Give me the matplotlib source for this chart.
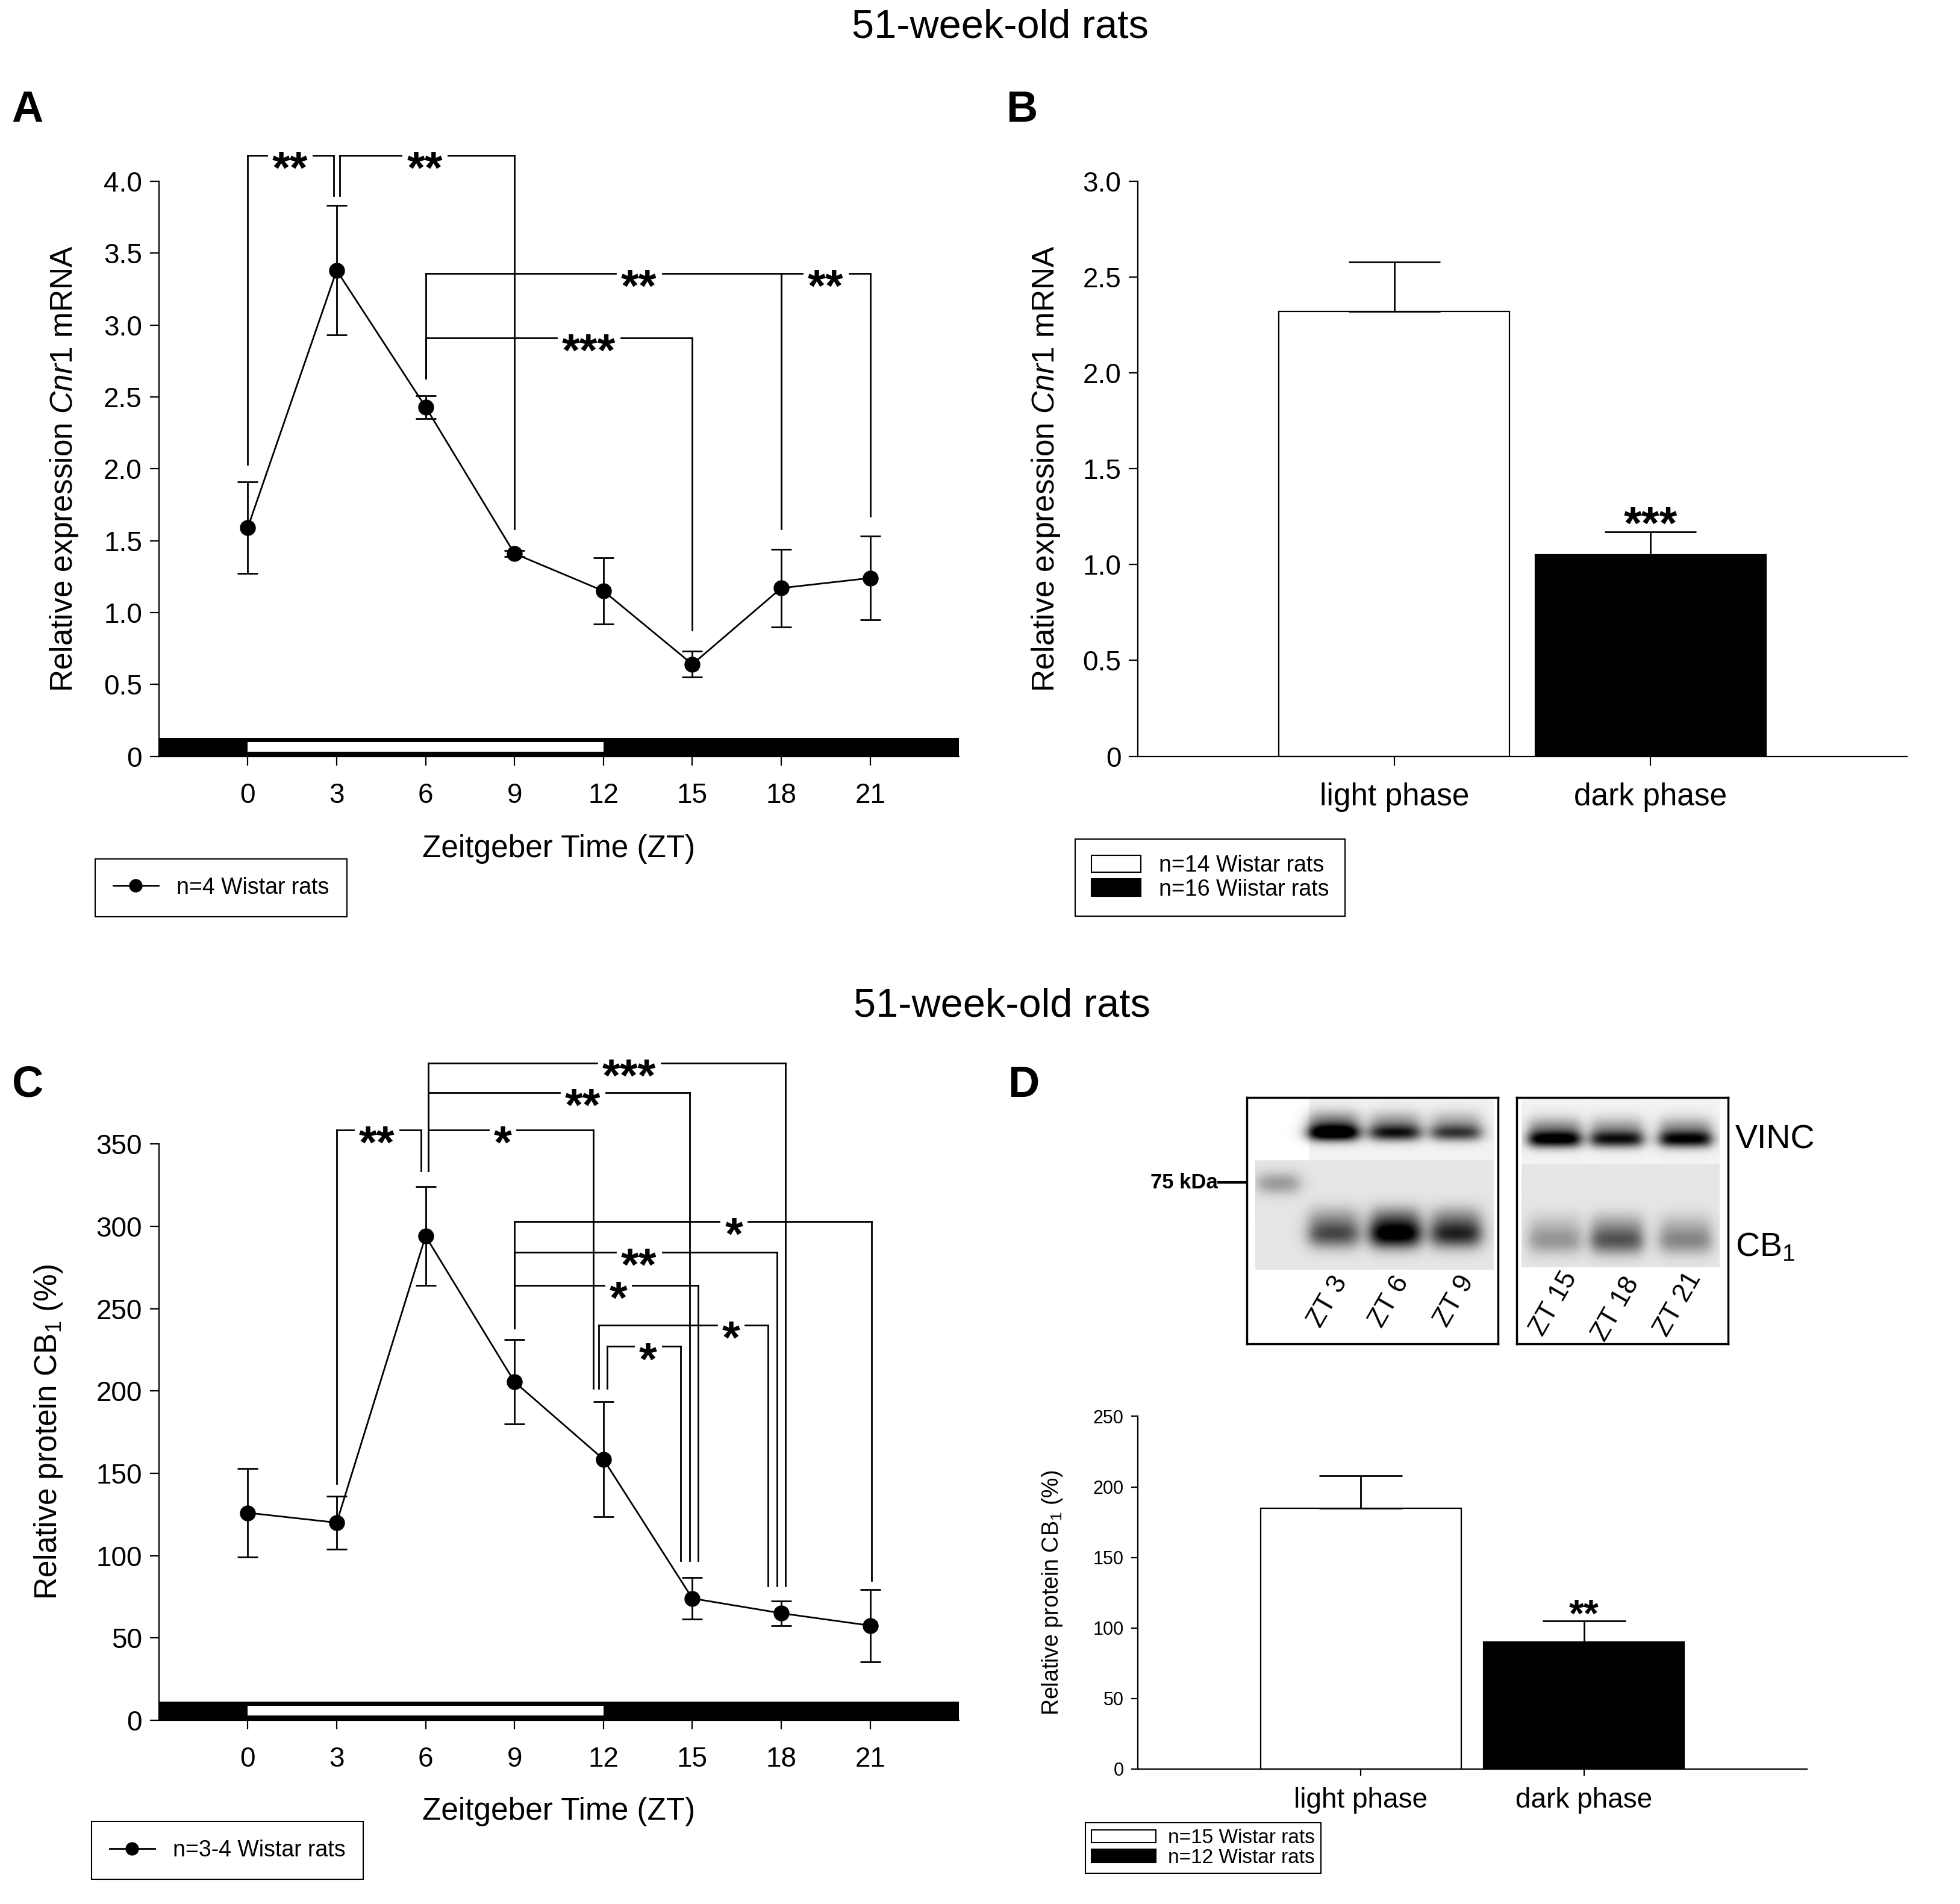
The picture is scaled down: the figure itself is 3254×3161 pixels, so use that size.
import numpy as np
import matplotlib
matplotlib.use("Agg")
import matplotlib.pyplot as plt
import matplotlib.transforms as mtransforms
from matplotlib import font_manager
from matplotlib.lines import Line2D
from matplotlib.patches import Patch, Rectangle

# ---- data ----
zt = [0, 3, 6, 9, 12, 15, 18, 21]

# A: Cnr1 mRNA over the day
mrna_mean = [1.59, 3.38, 2.43, 1.41, 1.15, 0.64, 1.17, 1.24]
mrna_err = [0.32, 0.45, 0.08, 0.02, 0.23, 0.09, 0.27, 0.29]

# B: light vs dark phase mRNA
phases = ["light phase", "dark phase"]
mrna_phase = [2.32, 1.05]
mrna_phase_err = [0.26, 0.12]

# C: CB1 protein over the day
prot_mean = [126, 120, 294, 205.5, 158.5, 74, 65, 57.5]
prot_err = [27, 16, 30, 25.5, 35, 12.7, 7.5, 22]

# D: light vs dark phase protein
prot_phase = [185, 90]
prot_phase_err = [23, 15]

# significance brackets: (x left, x right, bar y, left leg end, right leg end, label, label x)
sig_A = [
    (0, 2.9, 4.18, 2.03, 3.90, "**", 1.43),
    (3.1, 9, 4.18, 3.90, 1.58, "**", 5.97),
    (6, 18, 3.36, 2.63, 1.58, "**", 13.2),
    (18, 21, 3.36, 1.58, 1.67, "**", 19.5),
    (6, 15, 2.91, 2.63, 0.88, "***", 11.5),
]
sig_C = [
    (3, 5.85, 358.5, 143.7, 333.7, "**", 4.35),
    (6.1, 11.65, 358.5, 333.7, 201.6, "*", 8.6),
    (6.1, 14.9, 381.3, 333.7, 97, "**", 11.3),
    (6.1, 18.15, 399, 333.7, 81.7, "***", 12.86),
    (9, 21.05, 303, 238, 85, "*", 16.4),
    (9, 17.86, 284.3, 238, 81.7, "**", 13.2),
    (9, 15.2, 264, 238, 97, "*", 12.5),
    (11.85, 17.56, 240, 201.6, 81.7, "*", 16.3),
    (12.12, 14.6, 227, 201.6, 97, "*", 13.5),
]

# western blot lanes (decorative image in D)
blot1_lanes = ["ZT 3", "ZT 6", "ZT 9"]
blot1_vinc = [1.0, 0.72, 0.6]
blot1_cb1 = [0.6, 1.0, 0.75]
blot2_lanes = ["ZT 15", "ZT 18", "ZT 21"]
blot2_vinc = [0.85, 0.72, 0.78]
blot2_cb1 = [0.3, 0.55, 0.36]

# ---- style ----
plt.rcParams['font.family'] = ['Liberation Sans', 'DejaVu Sans']
plt.rcParams['mathtext.fontset'] = 'custom'
plt.rcParams['mathtext.rm'] = 'Liberation Sans'
plt.rcParams['mathtext.it'] = 'Liberation Sans:italic'
plt.rcParams['mathtext.bf'] = 'Liberation Sans:bold'

narrow = 'Liberation Sans Narrow'
try:
    font_manager.findfont(narrow, fallback_to_default=False)
except Exception:
    narrow = 'Liberation Sans'

LW = 2.0
TICK_FS = 33
LAB_FS = 37
STAR_FS = 55

fig = plt.figure(figsize=(32.55, 31.61), dpi=100)

fig.text(0.510, 0.9856, "51-week-old rats", ha='center', va='center', fontsize=48)
fig.text(0.511, 0.4714, "51-week-old rats", ha='center', va='center', fontsize=48)
for lx, ly, s in [(0.006, 0.942, 'A'), (0.513, 0.942, 'B'), (0.006, 0.430, 'C'), (0.514, 0.430, 'D')]:
    fig.text(lx, ly, s, ha='left', va='center', fontsize=52, fontweight='bold')


def style_axes(ax):
    for s in ['top', 'right']:
        ax.spines[s].set_visible(False)
    for s in ['left', 'bottom']:
        ax.spines[s].set_linewidth(1.6)
    ax.tick_params(direction='out', length=11, width=1.6, labelsize=TICK_FS)
    ax.tick_params(axis='y', pad=9)
    ax.tick_params(axis='x', pad=20)


def light_dark_bar(ax):
    trans = mtransforms.blended_transform_factory(ax.transData, ax.transAxes)
    ax.add_patch(Rectangle((-3, 0), 27, 0.032, transform=trans, facecolor='k',
                           edgecolor='none', clip_on=False, zorder=1))
    ax.add_patch(Rectangle((0, 0.008), 12, 0.017, transform=trans, facecolor='w',
                           edgecolor='none', clip_on=False, zorder=1.1))


star_lines = []


def star(ax, x, y, txt, fs=STAR_FS):
    return ax.annotate(txt, xy=(x, y), xytext=(0, -0.6 * fs), textcoords='offset points',
                       ha='center', va='baseline', fontsize=fs, fontweight='bold',
                       annotation_clip=False, zorder=5)


def brackets(ax, sigs):
    for x1, x2, y, lo1, lo2, txt, tx in sigs:
        ax.plot([x1, x1], [lo1, y], color='k', lw=LW, clip_on=False, zorder=4,
                solid_capstyle='projecting')
        ax.plot([x2, x2], [lo2, y], color='k', lw=LW, clip_on=False, zorder=4,
                solid_capstyle='projecting')
        t = star(ax, tx, y, txt)
        star_lines.append((ax, x1, x2, y, t))


def time_panel(ax, mean, err, ylim, yticks, ylabel, sigs):
    style_axes(ax)
    light_dark_bar(ax)
    ax.errorbar(zt, mean, yerr=err, fmt='-o', color='k', ms=18, lw=LW,
                elinewidth=LW, capsize=12, capthick=LW, zorder=3)
    ax.set_xlim(-3, 24)
    ax.set_ylim(*ylim)
    ax.set_xticks(zt)
    ax.set_yticks(yticks)
    ax.set_xlabel("Zeitgeber Time (ZT)", fontsize=LAB_FS)
    ax.set_ylabel(ylabel, fontsize=LAB_FS)
    brackets(ax, sigs)


# ---- A ----
axA = fig.add_axes([0.0810, 0.6028, 0.4082, 0.3020])
time_panel(axA, mrna_mean, mrna_err, (0, 4.0), np.arange(0, 4.01, 0.5),
           r"Relative expression $\mathit{Cnr1}$ mRNA", sig_A)
axA.set_yticklabels(["0"] + ["%.1f" % v for v in np.arange(0.5, 4.01, 0.5)])
axA.yaxis.set_label_coords(-0.098, 0.5)
axA.xaxis.set_label_coords(0.5, -0.136)
legA = fig.legend(handles=[Line2D([], [], color='k', lw=LW, marker='o', ms=15)],
                  labels=["n=4 Wistar rats"], loc='upper left',
                  bbox_to_anchor=(0.0485, 0.549), fontsize=27, fancybox=False,
                  edgecolor='k', framealpha=1, handlelength=2.0, borderpad=0.8,
                  borderaxespad=0)
legA.get_frame().set_linewidth(1.5)

# ---- C ----
axC = fig.add_axes([0.0810, 0.0965, 0.4082, 0.3027])
time_panel(axC, prot_mean, prot_err, (0, 350), np.arange(0, 351, 50),
           r"Relative protein CB$_1$ (%)", sig_C)
axC.yaxis.set_label_coords(-0.118, 0.5)
axC.xaxis.set_label_coords(0.5, -0.133)
legC = fig.legend(handles=[Line2D([], [], color='k', lw=LW, marker='o', ms=15)],
                  labels=["n=3-4 Wistar rats"], loc='upper left',
                  bbox_to_anchor=(0.0466, 0.0433), fontsize=27, fancybox=False,
                  edgecolor='k', framealpha=1, handlelength=2.0, borderpad=0.8,
                  borderaxespad=0)
legC.get_frame().set_linewidth(1.5)


def phase_panel(ax, vals, errs, capsize):
    style_axes(ax)
    xs = np.arange(len(vals))
    ax.bar(xs, vals, width=0.9, color=['w', 'k'], edgecolor='k', linewidth=1.6, zorder=2)
    ax.errorbar(xs, vals, yerr=[[0] * len(errs), errs], fmt='none', ecolor='k',
                elinewidth=LW, capsize=capsize, capthick=LW, zorder=3)
    ax.set_xlim(-1, 2)
    ax.set_xticks(xs)
    return xs


# ---- B ----
axB = fig.add_axes([0.5804, 0.6028, 0.3922, 0.3020])
xsB = phase_panel(axB, mrna_phase, mrna_phase_err, 55)
axB.set_ylim(0, 3.0)
axB.set_yticks(np.arange(0, 3.01, 0.5))
axB.set_yticklabels(["0"] + ["%.1f" % v for v in np.arange(0.5, 3.01, 0.5)])
axB.set_xticklabels(phases, fontsize=LAB_FS)
axB.set_ylabel(r"Relative expression $\mathit{Cnr1}$ mRNA", fontsize=LAB_FS)
axB.yaxis.set_label_coords(-0.099, 0.5)
star(axB, xsB[1], 1.28, "***")
legB = fig.legend(handles=[Patch(facecolor='w', edgecolor='k', lw=1.5),
                           Patch(facecolor='k', edgecolor='k', lw=1.5)],
                  labels=["n=14 Wistar rats", "n=16 Wiistar rats"], loc='upper left',
                  bbox_to_anchor=(0.5485, 0.5594), fontsize=27, fancybox=False,
                  edgecolor='k', framealpha=1, handlelength=2.2, handleheight=0.8,
                  labelspacing=0.1, borderpad=0.7, borderaxespad=0)
legB.get_frame().set_linewidth(1.5)

# ---- D bar chart ----
axD = fig.add_axes([0.5804, 0.0709, 0.3412, 0.1852])
xsD = phase_panel(axD, prot_phase, prot_phase_err, 50)
axD.set_ylim(0, 250)
axD.set_yticks(np.arange(0, 251, 50))
axD.tick_params(axis='y', labelsize=22, length=8)
axD.tick_params(axis='x', length=8, pad=14)
for lab in axD.get_yticklabels():
    lab.set_family(narrow)
axD.set_xticklabels(phases, fontsize=33, family=narrow)
axD.set_ylabel(r"Relative protein CB$_1$ (%)", fontsize=27)
axD.yaxis.set_label_coords(-0.110, 0.5)
star(axD, xsD[1], 117, "**", fs=46)
legD = fig.legend(handles=[Patch(facecolor='w', edgecolor='k', lw=1.5),
                           Patch(facecolor='k', edgecolor='k', lw=1.5)],
                  labels=["n=15 Wistar rats", "n=12 Wistar rats"], loc='upper left',
                  bbox_to_anchor=(0.5536, 0.0427), prop={'family': narrow, 'size': 24},
                  fancybox=False, edgecolor='k', framealpha=1, handlelength=3.2,
                  handleheight=0.6, labelspacing=0.05, borderpad=0.3, borderaxespad=0,
                  handletextpad=0.6)
legD.get_frame().set_linewidth(1.5)


# ---- D western blot (drawn image) ----
def lane(u, c, hw):
    return 1.0 / (1.0 + np.exp(-(hw - np.abs(u - c)) / 0.018))


def band(v, c, s):
    return np.exp(-((v - c) / s) ** 2)


def blot(ax, ext, centers, hw, vinc, cb1, vinc_y, cb1_y, split, marker=None):
    u = np.linspace(ext[0], ext[1], 320)
    v = np.linspace(ext[2], ext[3], 300)
    U, V = np.meshgrid(u, v)
    img = np.where(V < split, 0.05, 0.10)
    if marker is not None:
        img = np.where((V < split) & (U < marker[0] + marker[1] + 0.04), 0.0, img)
        img = img + 0.3 * lane(U, marker[0], marker[1]) * band(V, 0.35, 0.045)
    for c, a, b in zip(centers, vinc, cb1):
        L = lane(U, c, hw)
        img = img + a * L * band(V, vinc_y, 0.032)
        img = img + 0.5 * a * L * band(V, vinc_y - 0.04, 0.05)
        img = img + b * L * band(V, cb1_y, 0.055)
        img = img + 0.35 * b * L * band(V, cb1_y - 0.07, 0.05)
    img = np.clip(img, 0, 1)
    ax.imshow(img, cmap='gray_r', vmin=0, vmax=1, extent=[ext[0], ext[1], ext[3], ext[2]],
              aspect='auto', interpolation='bilinear')
    ax.set_xlim(0, 1)
    ax.set_ylim(1, 0)
    ax.set_xticks([])
    ax.set_yticks([])
    for s in ax.spines.values():
        s.set_linewidth(2.5)


bl1 = fig.add_axes([0.6358, 0.2942, 0.1282, 0.1294])
blot(bl1, (0.035, 0.983, 0.007, 0.70), [0.346, 0.592, 0.835], 0.095,
     blot1_vinc, blot1_cb1, 0.147, 0.557, 0.256, marker=(0.126, 0.08))
for (tx, ty), s in zip([(0.323, 0.829), (0.569, 0.829), (0.827, 0.827)], blot1_lanes):
    bl1.text(tx, ty, s, rotation=60, ha='center', va='center', fontsize=32)

bl2 = fig.add_axes([0.7736, 0.2942, 0.1078, 0.1294])
blot(bl2, (0.024, 0.96, 0.007, 0.69), [0.18, 0.475, 0.80], 0.12,
     blot2_vinc, blot2_cb1, 0.173, 0.583, 0.27)
for (tx, ty), s in zip([(0.177, 0.836), (0.47, 0.858), (0.762, 0.839)], blot2_lanes):
    bl2.text(tx, ty, s, rotation=60, ha='center', va='center', fontsize=32)

fig.text(0.885, 0.4012, "VINC", ha='left', va='center', fontsize=40)
fig.text(0.885, 0.3447, r"CB$_1$", ha='left', va='center', fontsize=40)
fig.text(0.621, 0.3789, "75 kDa", ha='right', va='center', fontsize=25, fontweight='bold')
fig.add_artist(Line2D([0.6215, 0.6355], [0.3789, 0.3789], color='k', lw=3,
                      transform=fig.transFigure))

# horizontal bracket lines with a gap around the stars
fig.canvas.draw()
for ax, x1, x2, y, t in star_lines:
    bb = t.get_window_extent()
    inv = ax.transData.inverted()
    g0 = inv.transform((bb.x0 - 9, 0))[0]
    g1 = inv.transform((bb.x1 + 9, 0))[0]
    ax.plot([x1, g0], [y, y], color='k', lw=LW, clip_on=False, zorder=4)
    ax.plot([g1, x2], [y, y], color='k', lw=LW, clip_on=False, zorder=4)

fig.savefig("out.png", dpi=100)
